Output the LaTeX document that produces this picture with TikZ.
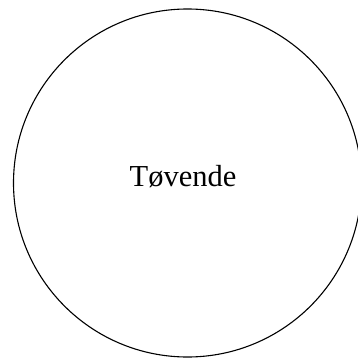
\documentclass[tikz,border=0pt]{standalone}
\usepackage{fontspec}
\setmainfont{Liberation Serif}
\begin{document}
\begin{tikzpicture}[x=1pt,y=1pt,
  state/.style={circle,draw=black,line width=1.1pt,minimum size=348pt,inner sep=0pt},
  lbl/.style={font=\fontsize{30.5}{36}\selectfont,inner sep=0pt,anchor=base}]
\useasboundingbox (0,0) rectangle (358,-358);
\clip (0,0) rectangle (358,-358);
\node[state] (c) at (187.5,-183) {};
\node[lbl] (t) at (183,-186.5) {Tøvende};
\end{tikzpicture}
\end{document}
